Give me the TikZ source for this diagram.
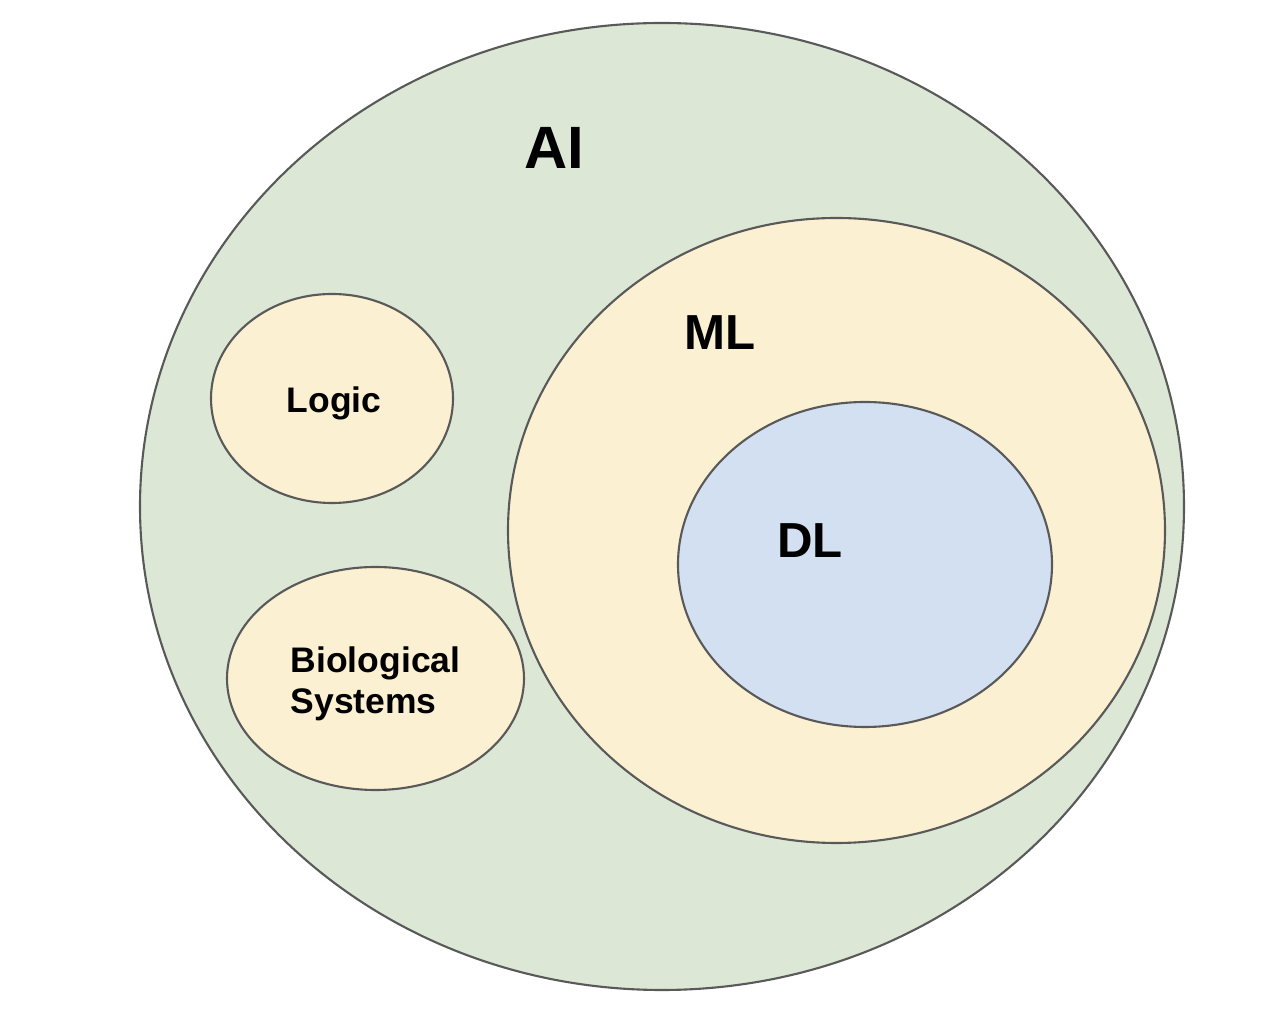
\documentclass[tikz,border=0pt]{standalone}
\usepackage{fontspec}
\setmainfont{Liberation Sans}

\definecolor{aigreen}{HTML}{DCE8D5}
\definecolor{mlyellow}{HTML}{FCF0D2}
\definecolor{dlblue}{HTML}{D3E0F1}
\definecolor{edgegray}{HTML}{595959}

\begin{document}
\begin{tikzpicture}
            \tikzstyle{every node}=[font=\bfseries, inner sep=0pt]
            \tikzstyle{set}=[draw=edgegray, line width=0.6pt]

            \useasboundingbox (0,0) rectangle (12.78,10.10);

            \draw[set, fill=aigreen] (6.62,5.035) ellipse [x radius=5.22, y radius=4.835];
            \draw[set, fill=mlyellow] (3.32,6.115) ellipse [x radius=1.21, y radius=1.045];
            \draw[set, fill=mlyellow] (3.755,3.315) ellipse [x radius=1.485, y radius=1.115];
            \draw[set, fill=mlyellow] (8.365,4.795) ellipse [x radius=3.285, y radius=3.125];
            \draw[set, fill=dlblue] (8.65,4.455) ellipse [x radius=1.87, y radius=1.625];

            \node[anchor=base, font=\fontsize{17}{20}\selectfont\bfseries] (ai) at (5.54,8.41) {AI};
            \node[anchor=base, font=\fontsize{14}{17}\selectfont\bfseries] (ml) at (7.20,6.60) {ML};
            \node[anchor=base, font=\fontsize{14}{17}\selectfont\bfseries] (dl) at (8.10,4.52) {DL};
            \node[anchor=base, font=\fontsize{10.1}{12}\selectfont\bfseries] (logic) at (3.34,5.97) {Logic};
            \node[anchor=base west, align=left, font=\fontsize{10.1}{11.7}\selectfont\bfseries] (bio) at (2.90,2.96) {Biological\\Systems};

          \end{tikzpicture}
\end{document}
